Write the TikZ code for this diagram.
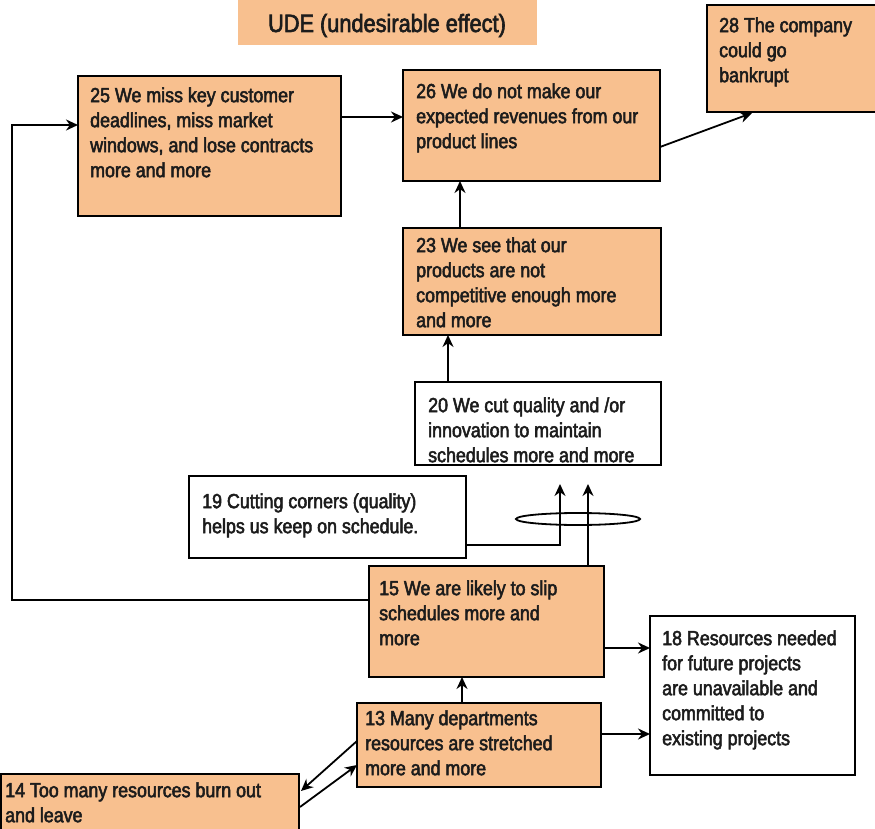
\documentclass[tikz,border=0pt]{standalone}
\usepackage{fontspec}
\setmainfont{Liberation Sans}[FakeStretch=0.87, FakeBold=2.5]
\usetikzlibrary{arrows.meta,calc}
\definecolor{peach}{RGB}{248,192,143}
\definecolor{ink}{RGB}{28,28,28}
% strut that fixes the height of a first line
\newcommand{\firstline}{\rule{0pt}{17pt}}
\tikzset{
  box/.style={draw=black, line width=2pt, fill=peach, anchor=north west,
              inner sep=0pt, outer sep=0pt},
  wbox/.style={box, fill=white},
  txt/.style={anchor=north west, align=left, inner sep=0pt, text=ink,
              font=\fontsize{20.5pt}{25pt}\selectfont},
  arr/.style={-{Stealth[length=12pt,width=11pt]}, line width=1.8pt},
}
\begin{document}
\begin{tikzpicture}[x=1pt,y=-1pt]
\clip (0,0) rectangle (875,829);
\fill[white] (0,0) rectangle (875,829);

% title band
\node[anchor=north west, fill=peach, minimum width=299pt, minimum height=45pt, inner sep=0pt] (ude) at (238,0) {};
\node[text=ink, font=\fontsize{25pt}{30pt}\selectfont, inner sep=0pt, anchor=base] (udet) at (387,32) {UDE (undesirable effect)};

% boxes
\node[box, minimum width=263pt, minimum height=140pt] (b25) at (78,76) {};
\node[box, minimum width=257pt, minimum height=111pt] (b26) at (403,70) {};
\node[box, minimum width=180pt, minimum height=107pt] (b28) at (707,5) {};
\node[box, minimum width=258pt, minimum height=107pt] (b23) at (403,228) {};
\node[wbox, minimum width=246pt, minimum height=83pt] (b20) at (415,382) {};
\node[wbox, minimum width=277pt, minimum height=82pt] (b19) at (189,476) {};
\node[box, minimum width=235pt, minimum height=111pt] (b15) at (369,566) {};
\node[wbox, minimum width=205pt, minimum height=159pt] (b18) at (650,616) {};
\node[box, minimum width=244pt, minimum height=84pt] (b13) at (357,703) {};
\node[box, minimum width=298pt, minimum height=70pt] (b14) at (1,774) {};

% texts
\node[txt] (t25) at (90,85) {\firstline 25 We miss key customer\\deadlines, miss market\\windows, and lose contracts\\more and more};
\node[txt] (t26) at (416,81) {\firstline 26 We do not make our\\expected revenues from our\\product lines};
\node[txt] (t28) at (719,15) {\firstline 28 The company\\could go\\bankrupt};
\node[txt] (t23) at (416,235) {\firstline 23 We see that our\\products are not\\competitive enough more\\and more};
\node[txt] (t20) at (428,395) {\firstline 20 We cut quality and /or\\innovation to maintain\\schedules more and more};
\node[txt] (t19) at (202,491) {\firstline 19 Cutting corners (quality)\\helps us keep on schedule.};
\node[txt] (t15) at (379,578) {\firstline 15 We are likely to slip\\schedules more and\\more};
\node[txt] (t18) at (662,628) {\firstline 18 Resources needed\\for future projects\\are unavailable and\\committed to\\existing projects};
\node[txt] (t13) at (365,708) {\firstline 13 Many departments\\resources are stretched\\more and more};
\node[txt] (t14) at (5,780) {\firstline 14 Too many resources burn out\\and leave};

% connector end points
\coordinate (p25) at ($(b25.north east)+(0,41)$);
\coordinate (p26) at ($(b26.north east)+(0,77)$);
\coordinate (q28) at ($(b28.south west)+(45,1)$);
\coordinate (p23) at ($(b23.north west)+(57,0)$);
\coordinate (p20) at ($(b20.north west)+(33,0)$);
\coordinate (p19) at ($(b19.north east)+(0,69)$);
\coordinate (c19) at ($(b20.south west)+(145,19)$);
\coordinate (p15) at ($(b15.north west)+(219,0)$);
\coordinate (c15) at ($(b20.south west)+(173,19)$);
\coordinate (l15) at ($(b15.north west)+(0,34)$);
\coordinate (k25) at ($(b25.north west)+(-66,49)$);
\coordinate (r15) at ($(b15.north east)+(0,82)$);
\coordinate (u13) at ($(b13.north west)+(105,0)$);
\coordinate (r13) at ($(b13.north east)+(0,31)$);
\coordinate (a13) at ($(b13.north west)+(0,38)$);
\coordinate (a14) at ($(b14.north east)+(2,17)$);
\coordinate (b14o) at ($(b14.north east)+(1,33)$);
\coordinate (b13i) at ($(b13.north west)+(0,62)$);

% connectors
\draw[arr] (p25) -- (p25 -| b26.west);
\draw[arr] (p26) -- (q28);
\draw[arr] (p23) -- (p23 |- b26.south);
\draw[arr] (p20) -- (p20 |- b23.south);
\draw[arr] (p19) -| (c19);
\draw[arr] (p15) -- (c15);
\draw[line width=1.8pt] (578,519) ellipse [x radius=62, y radius=6];
\draw[arr] (l15) -| (k25) -- (k25 -| b25.west);
\draw[arr] (r15) -- (r15 -| b18.west);
\draw[arr] (u13) -- (u13 |- b15.south);
\draw[arr] (r13) -- (r13 -| b18.west);
\draw[arr] (a13) -- (a14);
\draw[arr] (b14o) -- (b13i);
\end{tikzpicture}
\end{document}
